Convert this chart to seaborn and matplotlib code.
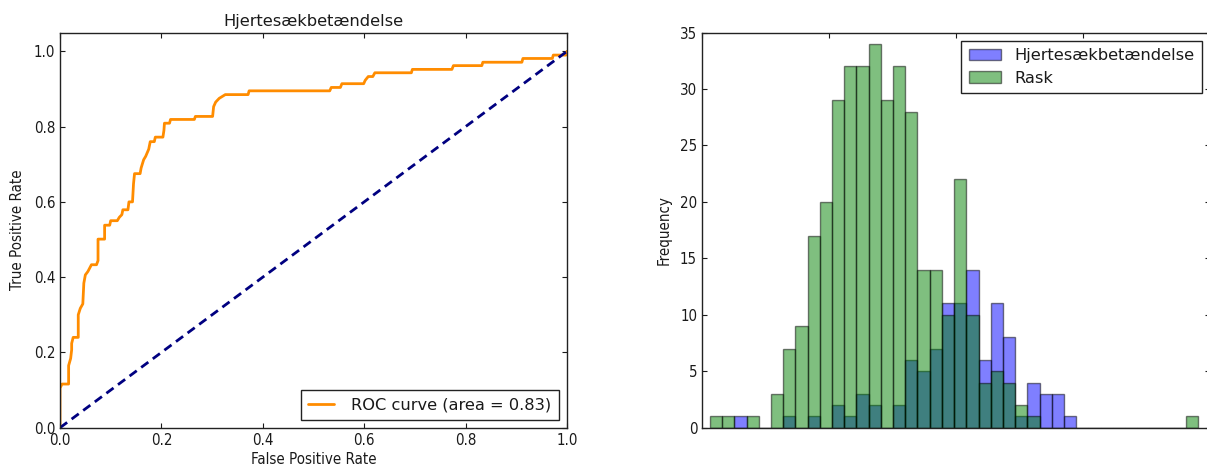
import numpy as np
import pandas as pd
import matplotlib
matplotlib.use("Agg")
import matplotlib.pyplot as plt
from matplotlib.patches import Patch
import seaborn as sns

# ---------------- data ----------------
fpr = [0.0, 0.0, 0.004, 0.017, 0.017, 0.021, 0.023, 0.023, 0.026, 0.036, 0.036,
       0.040, 0.045, 0.047, 0.050, 0.055, 0.062, 0.072, 0.075, 0.075, 0.088, 0.088,
       0.098, 0.100, 0.113, 0.117, 0.122, 0.124, 0.134, 0.136, 0.143, 0.145, 0.147,
       0.158, 0.160, 0.165, 0.169, 0.175, 0.178, 0.186, 0.188, 0.203, 0.205, 0.206,
       0.216, 0.218, 0.265, 0.267, 0.301, 0.303, 0.307, 0.314, 0.326, 0.371, 0.373,
       0.532, 0.535, 0.553, 0.556, 0.599, 0.602, 0.608, 0.617, 0.621, 0.693, 0.695,
       0.773, 0.776, 0.832, 0.834, 0.911, 0.913, 0.971, 0.973, 0.998, 1.0]
tpr = [0.0, 0.105, 0.116, 0.116, 0.165, 0.184, 0.207, 0.224, 0.240, 0.240, 0.300,
       0.317, 0.329, 0.384, 0.406, 0.415, 0.433, 0.433, 0.444, 0.501, 0.501, 0.538,
       0.538, 0.550, 0.550, 0.559, 0.566, 0.579, 0.579, 0.600, 0.600, 0.648, 0.675,
       0.675, 0.690, 0.712, 0.721, 0.740, 0.760, 0.760, 0.772, 0.772, 0.790, 0.809,
       0.809, 0.819, 0.819, 0.827, 0.827, 0.853, 0.865, 0.875, 0.885, 0.885, 0.895,
       0.895, 0.904, 0.904, 0.914, 0.914, 0.923, 0.933, 0.933, 0.943, 0.943, 0.952,
       0.952, 0.962, 0.962, 0.971, 0.971, 0.981, 0.981, 0.990, 0.990, 1.0]
roc_auc = 0.83

# histogram: 40 equal bins
bin_start = 0.063
bin_width = 0.0961
counts_hjerte = [0, 0, 1, 0, 0, 0, 1, 0, 1, 0, 2, 1, 3, 2, 0, 2, 6, 5, 7, 11,
                 11, 14, 6, 11, 8, 1, 4, 3, 3, 1, 0, 0, 0, 0, 0, 0, 0, 0, 0, 0]
counts_rask = [1, 1, 0, 1, 0, 3, 7, 9, 17, 20, 29, 32, 32, 34, 29, 32, 28, 14, 14, 10,
               22, 10, 4, 5, 4, 2, 1, 0, 0, 0, 0, 0, 0, 0, 0, 0, 0, 0, 0, 1]
hist_xticks = [0, 1, 2, 3, 4]

label_sick = "Hjertesækbetændelse"
label_healthy = "Rask"

# ---------------- style ----------------
sns.set_style("white")
plt.rcParams.update({
    "font.family": ["DejaVu Sans"],
    "font.stretch": "condensed",
    "text.color": "#1a1a1a",
    "axes.labelcolor": "#1a1a1a",
    "xtick.color": "#1a1a1a",
    "ytick.color": "#1a1a1a",
    "axes.edgecolor": "#222222",
    "axes.linewidth": 1.0,
    "xtick.direction": "in",
    "ytick.direction": "in",
    "xtick.top": True,
    "ytick.right": True,
    "xtick.bottom": True,
    "ytick.left": True,
    "xtick.major.size": 3.5,
    "ytick.major.size": 3.5,
    "xtick.major.width": 0.8,
    "ytick.major.width": 0.8,
    "xtick.labelsize": 10.8,
    "ytick.labelsize": 10.8,
    "axes.labelsize": 10.8,
})
big_font = {"family": "DejaVu Sans", "stretch": "normal", "size": 11.7}
edge_col = (0, 0, 0, 0.5)

fig = plt.figure(figsize=(12.07, 4.68), dpi=100)
W, H = 1207.0, 468.0
ax1 = fig.add_axes([60 / W, (H - 427.7) / H, 507 / W, 395.2 / H])
ax2 = fig.add_axes([702 / W, (H - 427.7) / H, 508 / W, 395.2 / H])

# ---------------- ROC ----------------
roc_df = pd.DataFrame({"fpr": fpr, "tpr": tpr})
sns.lineplot(data=roc_df, x="fpr", y="tpr", ax=ax1, sort=False, estimator=None,
             color="darkorange", lw=2, label="ROC curve (area = %0.2f)" % roc_auc)
diag = pd.DataFrame({"x": [0, 1], "y": [0, 1]})
sns.lineplot(data=diag, x="x", y="y", ax=ax1, color="navy", lw=2,
             linestyle=(0, (3.2, 2.0)), sort=False, estimator=None)
ax1.set_xlim(0.0, 1.0)
ax1.set_ylim(0.0, 1.05)
ticks = [0.0, 0.2, 0.4, 0.6, 0.8, 1.0]
ax1.set_xticks(ticks)
ax1.set_yticks(ticks)
ax1.set_xticklabels(["%.1f" % v for v in ticks])
ax1.set_yticklabels(["%.1f" % v for v in ticks])
ax1.set_xlabel("False Positive Rate", labelpad=3)
ax1.set_ylabel("True Positive Rate", labelpad=6)
ax1.set_title("Hjertesækbetændelse", pad=5, fontdict=big_font)
leg1 = ax1.legend(loc="lower right", prop=big_font, fancybox=False, framealpha=1,
                  edgecolor="#222222", handlelength=1.6, borderpad=0.45,
                  handletextpad=1.05, borderaxespad=0.5)
leg1.get_frame().set_linewidth(1.0)

# ---------------- histogram ----------------
edges = (bin_start + bin_width * np.arange(len(counts_rask) + 1)).tolist()
centers = [(a + b) / 2 for a, b in zip(edges[:-1], edges[1:])]
hist_df = pd.DataFrame({"x": centers, "w_sick": counts_hjerte, "w_healthy": counts_rask})
sns.histplot(data=hist_df, x="x", weights="w_sick", bins=edges, ax=ax2, color="blue",
             alpha=0.5, edgecolor=edge_col, linewidth=1.0)
sns.histplot(data=hist_df, x="x", weights="w_healthy", bins=edges, ax=ax2, color="green",
             alpha=0.5, edgecolor=edge_col, linewidth=1.0)
ax2.set_xlim(hist_xticks[0], hist_xticks[-1])
ax2.set_ylim(0, 35)
ax2.set_xticks(hist_xticks)
ax2.set_yticks([0, 5, 10, 15, 20, 25, 30, 35])
ax2.tick_params(axis="x", bottom=False, labelbottom=False, top=True)
ax2.set_xlabel("")
ax2.set_ylabel("Frequency", labelpad=6)
handles = [Patch(facecolor=(0, 0, 1, 0.5), edgecolor=edge_col, label=label_sick),
           Patch(facecolor=(0, 0.5, 0, 0.5), edgecolor=edge_col, label=label_healthy)]
leg2 = ax2.legend(handles=handles, loc="upper right", prop=big_font, fancybox=False,
                  framealpha=1, edgecolor="#222222", handlelength=2.0,
                  borderpad=0.45, handletextpad=0.82, borderaxespad=0.5,
                  labelspacing=0.47)
leg2.get_frame().set_linewidth(1.0)

fig.savefig("out.png", dpi=100)
